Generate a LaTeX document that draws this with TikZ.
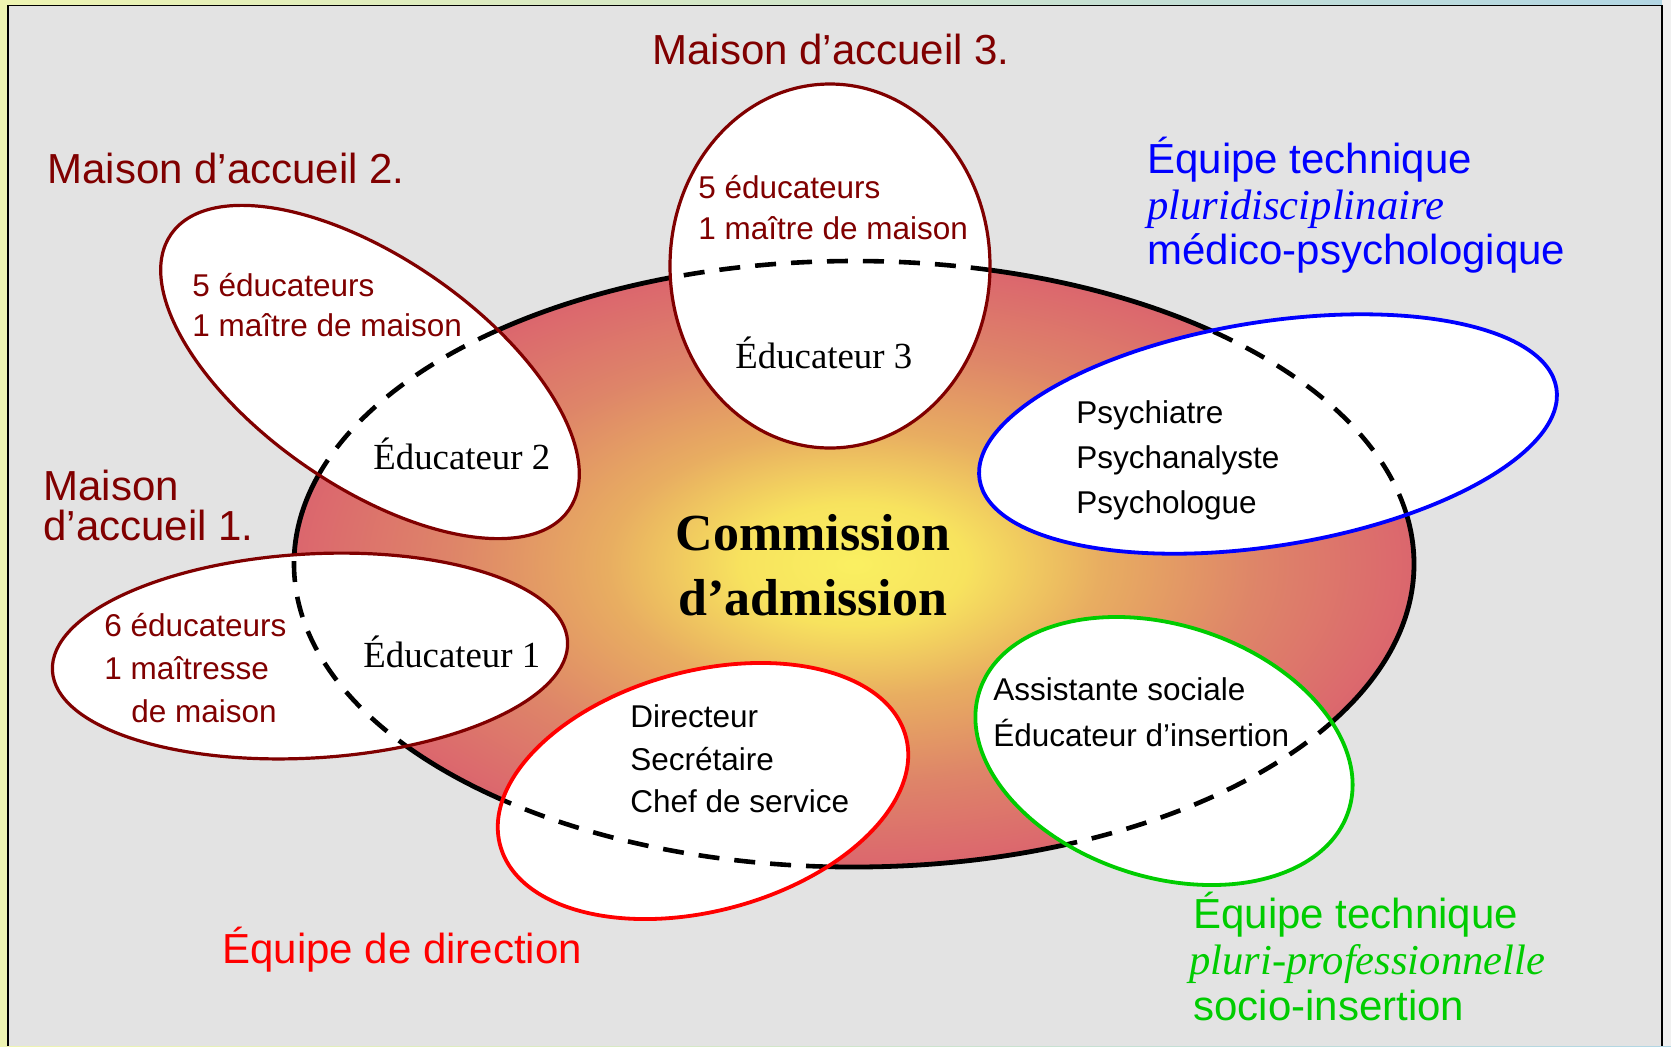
\documentclass[tikz,border=0pt]{standalone}
\usepackage{fontspec}
\setmainfont{Liberation Serif}
\setsansfont{Liberation Sans}

\definecolor{maison}{RGB}{128,0,0}
\definecolor{direction}{RGB}{255,0,0}
\definecolor{socio}{RGB}{0,204,0}
\definecolor{psycho}{RGB}{0,0,255}
\definecolor{panel}{RGB}{227,227,227}
\definecolor{frameleft}{RGB}{238,244,178}
\definecolor{frameright}{RGB}{178,214,228}

\pgfdeclareradialshading{commission}{\pgfpoint{0bp}{0bp}}{%
  rgb(0bp)=(0.98,0.94,0.38);
  rgb(5bp)=(0.97,0.89,0.37);
  rgb(11bp)=(0.91,0.68,0.38);
  rgb(18bp)=(0.87,0.52,0.41);
  rgb(25bp)=(0.86,0.40,0.43);
  rgb(50bp)=(0.86,0.40,0.43)}

\newcommand{\ellcommission}{(854,564) ellipse [x radius=560, y radius=303]}
\newcommand{\ellmaisonun}{(310,656) ellipse [x radius=258, y radius=102, rotate=3.3]}
\newcommand{\ellmaisondeux}{(370,372) ellipse [x radius=242, y radius=114, rotate=-34.7]}
\newcommand{\ellmaisontrois}{(830,266) ellipse [x radius=160, y radius=182]}
\newcommand{\elldirection}{(703,791) ellipse [x radius=210, y radius=120, rotate=15]}
\newcommand{\ellsocio}{(1164,751) ellipse [x radius=194, y radius=126, rotate=-18]}
\newcommand{\ellpsycho}{(1268,434) ellipse [x radius=292, y radius=112, rotate=9]}

\begin{document}
\begin{tikzpicture}[x=0.5pt, y=-0.5pt,
  house/.style={draw=maison, line width=1.6pt},
  team/.style={line width=1.9pt},
  outline/.style={draw=black, line width=2.4pt},
  hidden/.style={black, line width=2.3pt, dash pattern=on 10.5pt off 7.5pt},
  title/.style={anchor=base west, inner sep=0pt, font=\sffamily\fontsize{21}{25}\selectfont},
  subtitle/.style={anchor=base west, inner sep=0pt, font=\itshape\fontsize{21.3}{25}\selectfont},
  staff/.style={anchor=west, inner sep=0pt, align=left, font=\sffamily\fontsize{15.75}{#1}\selectfont},
  educ/.style={anchor=base west, inner sep=0pt, font=\fontsize{18.4}{22}\selectfont}]
\useasboundingbox (0,0) rectangle (1671,1046);
\shade[left color=frameleft, right color=frameright] (0,0) rectangle (1671,1046);
\fill[white!94!black] (1662,0) rectangle (1671,1046);
\fill[panel] (8,5.5) rectangle (1662,1046);
\draw[line width=0.8pt] (8,1046) -- (8,5.5) -- (1662,5.5) -- (1662,1046);

\shadedraw[shading=commission, outline] \ellcommission;
\fill[white] \ellmaisonun \ellmaisondeux \ellmaisontrois \elldirection \ellsocio \ellpsycho;
\begin{scope}
\clip \ellmaisonun \ellmaisondeux \ellmaisontrois \elldirection \ellsocio \ellpsycho;
\draw[hidden] \ellcommission;
\end{scope}
\draw[house] \ellmaisonun \ellmaisondeux \ellmaisontrois;
\draw[team, draw=direction] \elldirection;
\draw[team, draw=socio] \ellsocio;
\draw[team, draw=psycho] \ellpsycho;

\node[title, text=maison] (titre3) at (652,64) {Maison d’accueil 3.};
\node[title, text=maison] (titre2) at (47,183) {Maison d’accueil 2.};
\node[title, text=maison] (titre1a) at (43,500) {Maison};
\node[title, text=maison] (titre1b) at (43,540) {d’accueil 1.};

\node[staff=20.5, text=maison] (equipe3) at (698,208) {5 éducateurs\\1 maître de maison};
\node[educ] (educ3) at (735,368) {Éducateur 3};
\node[staff=20, text=maison] (equipe2) at (192,305.5) {5 éducateurs\\1 maître de maison};
\node[educ] (educ2) at (373,469) {Éducateur 2};
\node[staff=21.5, text=maison] (equipe1) at (104,668.5) {6 éducateurs\\1 maîtresse\\\hspace*{13.5pt}de maison};
\node[educ] (educ1) at (363,667) {Éducateur 1};

\node[staff=21.25] (direction) at (630,759) {Directeur\\Secrétaire\\Chef de service};
\node[staff=23] (socio) at (993,712) {Assistante sociale\\Éducateur d’insertion};
\node[staff=22.5] (psycho) at (1076,460) {Psychiatre\\Psychanalyste\\Psychologue};

\node[title, text=direction] (titredirection) at (222,963) {Équipe de direction};
\node[title, text=socio] (titresocio) at (1193,928) {Équipe technique};
\node[subtitle, text=socio] (soussocio) at (1189,974) {pluri-professionnelle};
\node[title, text=socio] (finsocio) at (1193,1020) {socio-insertion};
\node[title, text=psycho] (titrepsycho) at (1147,173) {Équipe technique};
\node[subtitle, text=psycho] (souspsycho) at (1147,219) {pluridisciplinaire};
\node[title, text=psycho] (finpsycho) at (1147,264) {médico-psychologique};

\node[align=center, inner sep=0pt, font=\bfseries\fontsize{26}{32.5}\selectfont] (commission) at (813,565) {Commission\\d’admission};
\end{tikzpicture}
\end{document}
